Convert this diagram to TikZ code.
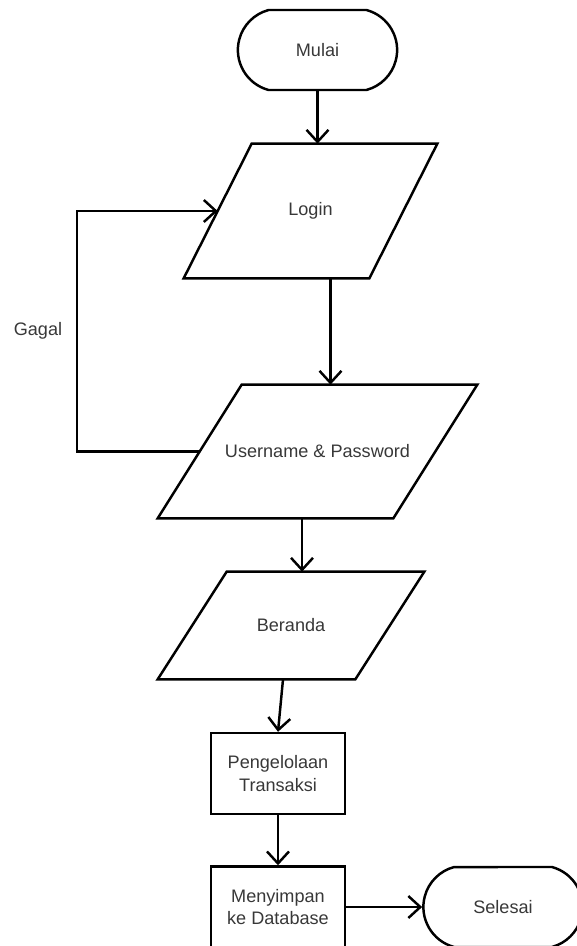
\documentclass[tikz,border=0pt]{standalone}
\usepackage{fontspec}
\setmainfont{Liberation Sans}
\usetikzlibrary{arrows.meta,shapes.misc}
\tikzset{
	flowline/.style={line width=1.4pt, draw=black},
	flowarrow/.style={flowline, -{Straight Barb[length=2.4mm,width=4.4mm]}},
	flowtext/.style={text=black!78, font=\fontsize{10.3}{13}\selectfont, align=center},
	terminal/.style={flowline, flowtext, rounded rectangle, rounded rectangle arc length=150, minimum width=3.42cm, minimum height=1.6cm},
	inout/.style={flowtext, rectangle, inner sep=0pt},
	process/.style={flowline, flowtext, rectangle, minimum width=2.68cm, minimum height=1.62cm, inner sep=0pt}
}
% parallelogram round a node: (name)(slant)
\def\jajargenjang(#1)(#2){\draw[flowline] ([xshift=#2/2]#1.north west) -- ([xshift=#2/2]#1.north east) -- ([xshift=-#2/2]#1.south east) -- ([xshift=-#2/2]#1.south west) -- cycle;}

\begin{document}
\begin{tikzpicture}[x=0.02cm, y=-0.02cm]
			%%%%% START %%%%%
			\useasboundingbox (0, 0) rectangle (577, 946);
			
			\node[terminal] (mulai) at (317.5, 50) {Mulai};
			\node[inout, minimum width=3.7cm, minimum height=2.68cm] (login) at (310.5, 211) {Login};
			\node[inout, minimum width=4.7cm, minimum height=2.66cm] (user) at (317.5, 451.5) {Username \& Password};
			\node[inout, minimum width=3.94cm, minimum height=2.14cm] (beranda) at (291, 625.5) {Beranda};
			\node[process] (kelola) at (278, 773.5) {Pengelolaan\\Transaksi};
			\node[process] (simpan) at (278, 907) {Menyimpan\\ke Database};
			\node[terminal] (selesai) at (503, 907) {Selesai};
			
			\jajargenjang(login)(1.36cm)
			\jajargenjang(user)(1.68cm)
			\jajargenjang(beranda)(1.38cm)
			
			\node[flowtext] (gagal) at (38, 331) {Gagal};
			\coordinate (balik) at (77, 211);
			
			\draw[flowarrow] (mulai.south) -- (mulai.south |- login.north);
			\draw[flowarrow] ([xshift=0.4cm]login.south) -- ([xshift=0.4cm]login.south |- user.north);
			\draw[flowarrow] ([xshift=-0.31cm]user.south) -- ([xshift=-0.31cm]user.south |- beranda.north);
			\draw[flowarrow] ([xshift=-0.16cm]beranda.south) -- (kelola.north);
			\draw[flowarrow] (kelola.south) -- (simpan.north);
			\draw[flowarrow] (simpan.east) -- (selesai.west);
			
			\draw[flowarrow] (user.west) -- (user.west -| balik) -- (balik) -- (login.west);
			
			%%%%% END %%%%%
		\end{tikzpicture}
\end{document}
